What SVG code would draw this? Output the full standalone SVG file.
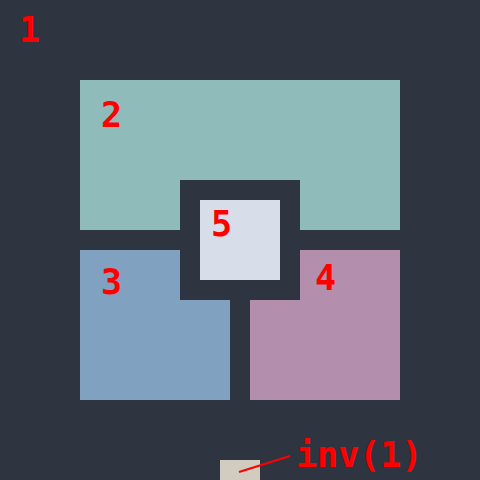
<svg xmlns="http://www.w3.org/2000/svg" width="480" height="480" viewBox="0 0 480 480">
<style>
.lbl{fill:#ff0000;font-family:"DejaVu Sans Mono","Liberation Mono",monospace;font-weight:bold;font-size:35px}
</style>
<rect x="0" y="0" width="480" height="480" fill="#2e3440"/>
<g id="n2"><rect x="80" y="80" width="320" height="150" fill="#8fbcbb"/></g>
<g id="n3"><rect x="80" y="250" width="150" height="150" fill="#81a1c1"/></g>
<g id="n4"><rect x="250" y="250" width="150" height="150" fill="#b48ead"/></g>
<g id="n5frame"><rect x="180" y="180" width="120" height="120" fill="#2e3440"/></g>
<g id="n5"><rect x="200" y="200" width="80" height="80" fill="#d8dee9"/></g>
<g id="inv"><rect x="220" y="460" width="40" height="20" fill="#d1cbc0"/></g>
<g id="connectors"><line x1="239" y1="472" x2="290" y2="456" stroke="#ff0000" stroke-width="2"/></g>
<g id="labels">
<text class="lbl" x="19" y="42">1</text>
<text class="lbl" x="101" y="127">2</text>
<text class="lbl" x="101" y="294">3</text>
<text class="lbl" x="315" y="290">4</text>
<text class="lbl" x="211" y="236">5</text>
<text class="lbl" x="296" y="467">inv(1)</text>
</g>
</svg>
